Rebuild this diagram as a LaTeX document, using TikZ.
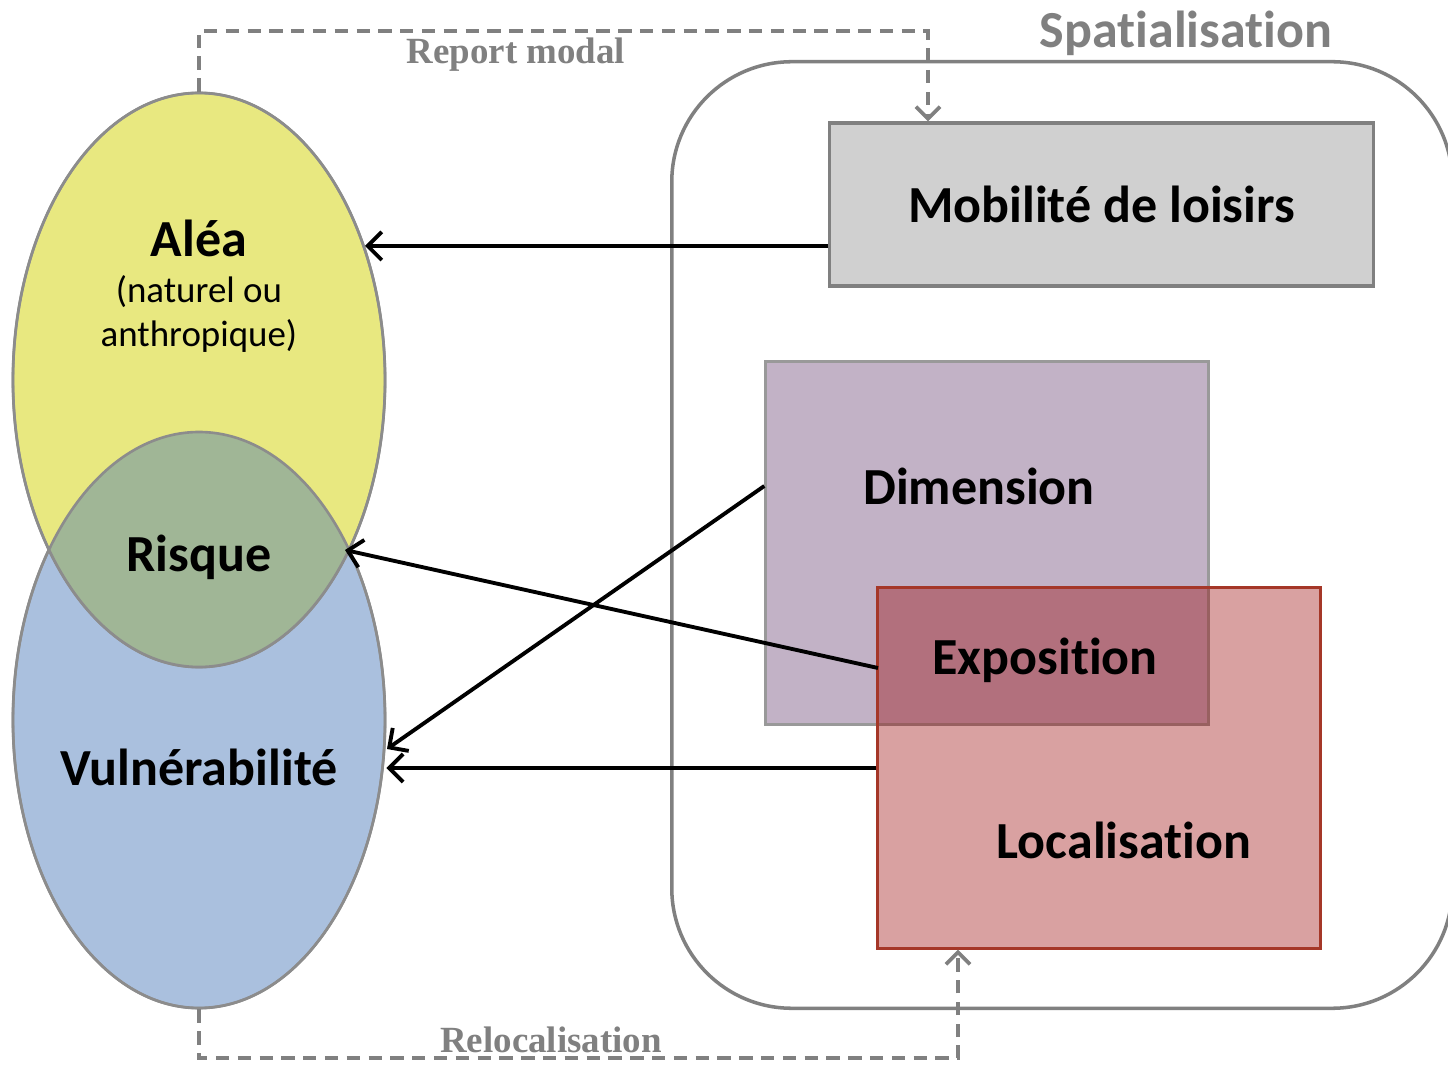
\documentclass[tikz,border=0pt]{standalone}
\usepackage{fontspec}
\setmainfont[Ligatures=NoCommon]{Carlito}
\newfontfamily\timesfont{Liberation Serif}
\usetikzlibrary{positioning, shapes.geometric, arrows.meta, calc}

\definecolor{aleaYellow}{RGB}{232,232,128}
\definecolor{vulnBlue}{RGB}{170,192,222}
\definecolor{risqueGreen}{RGB}{160,182,150}
\definecolor{mobGray}{RGB}{208,208,208}
\definecolor{dimPurple}{RGB}{194,178,198}
\definecolor{locRed}{RGB}{152,0,0}
\definecolor{locEdge}{RGB}{165,55,40}
\definecolor{frameGray}{RGB}{128,128,128}

\begin{document}
\begin{tikzpicture}[
            x=0.01cm, y=-0.01cm,
            blob/.style={ellipse, draw=black!45, line width=0.75pt, minimum width=3.72cm, inner sep=0pt},
            box/.style={draw=frameGray, line width=0.9pt, inner sep=0pt},
            title/.style={font=\fontsize{14.8}{18}\selectfont\bfseries},
            note/.style={font=\fontsize{10.5}{12.5}\selectfont, align=center},
            modal/.style={draw=frameGray, line width=1.05pt, dash pattern=on 3.8pt off 2.4pt},
            modaltip/.style={-{Straight Barb[length=1.2mm, width=2.4mm]}},
            caption/.style={text=frameGray, font=\timesfont\fontsize{10.5}{12}\selectfont\bfseries},
            arrow/.style={-{Straight Barb[length=1.4mm, width=2.8mm]}, line width=1.1pt}
        ]
        \useasboundingbox (0,0) rectangle (1448,1067);

        % Spatialisation frame
        \node[draw=frameGray, line width=1pt, rounded corners=1.2cm, minimum width=7.8cm, minimum height=9.46cm] (spat) at (1062,535) {};
        \node[title, text=frameGray] (spattxt) at (1186,33) {Spatialisation};

        % Risk ellipses
        \node[blob, fill=vulnBlue, minimum height=5.76cm] (vuln) at (199,720) {};
        \node[blob, fill=aleaYellow, minimum height=5.74cm] (alea) at (199,380) {};
        \begin{scope}
            \clip (vuln.center) ellipse [x radius=186, y radius=288];
            \fill[risqueGreen] (alea.center) ellipse [x radius=186, y radius=287];
        \end{scope}
        \draw[black!45, line width=0.75pt] (vuln.center) ellipse [x radius=186, y radius=288];
        \draw[black!45, line width=0.75pt] (alea.center) ellipse [x radius=186, y radius=287];

        \node[title] (aleatxt) at (199,238) {Aléa};
        \node[note] (aleanote) at (199,314) {(naturel ou\\anthropique)};
        \node[title] (risque) at (199,557) {Risque};
        \node[title] (vulntxt) at (199,767) {Vulnérabilité};

        % Spatial boxes
        \node[box, fill=mobGray, minimum width=5.43cm, minimum height=1.63cm, title] (mob) at (1101.5,204.5) {Mobilité de loisirs};
        \node[box, fill=dimPurple, draw=black!40, minimum width=4.42cm, minimum height=3.62cm] (dim) at (987,543) {};
        \node[box, fill=locRed, fill opacity=0.37, draw=locEdge, minimum width=4.42cm, minimum height=3.6cm] (loc) at (1099,768) {};
        \node[title] (dimtxt) at (979,486) {Dimension};
        \node[title] (expo) at (1045,660) {Exposition};
        \node[title] (loctxt) at (1124,840) {Localisation};

        % Modal shifts (dashed)
        \coordinate (reportTop) at (928,31);
        \coordinate (relocBot) at (958,1058);
        \draw[modal, modaltip] (alea.north) |- (reportTop) -- (reportTop |- mob.north);
        \draw[modal, modaltip] (vuln.south) |- (relocBot) -- (relocBot |- loc.south);
        \node[caption] (report) at (516,55) {Report modal};
        \node[caption] (reloc) at (551,1040) {Relocalisation};

        % Arrows towards the risk
        \coordinate (aleaIn) at (365,246);
        \coordinate (expoOut) at (878,668);
        \coordinate (risqueIn) at (345,550);
        \coordinate (vulnIn) at (387,749);
        \draw[arrow] (mob.west |- aleaIn) -- (aleaIn);
        \draw[arrow] (expoOut) -- (risqueIn);
        \draw[arrow] (dim.west |- dimtxt) -- (vulnIn);
        \draw[arrow] (loc.west) -- (loc.west -| vuln.east);

\end{tikzpicture}
\end{document}
